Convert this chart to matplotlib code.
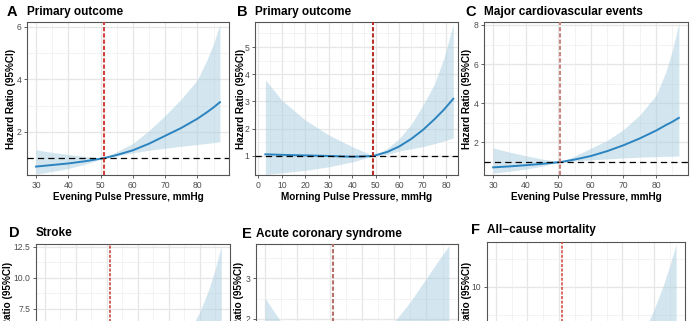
import matplotlib
matplotlib.use('Agg')
import matplotlib.pyplot as plt
import numpy as np

plt.rcParams['font.family'] = ['Liberation Sans', 'DejaVu Sans']

W, H = 694, 321

# evening pulse pressure grid (panels A, C, D, E, F)
x_eve = [30, 35, 40, 45, 51, 55, 60, 65, 70, 75, 80, 83, 85, 87]
# morning pulse pressure grid (panel B)
x_mor = [3, 10, 20, 30, 40, 49, 55, 60, 65, 70, 75, 79, 83]

# A  Primary outcome, evening
hr_a = [0.68, 0.74, 0.80, 0.88, 1.00, 1.12, 1.30, 1.55, 1.85, 2.15, 2.50, 2.75, 2.93, 3.13]
up_a = [1.32, 1.22, 1.14, 1.07, 1.00, 1.25, 1.56, 2.05, 2.62, 3.25, 3.98, 4.75, 5.35, 6.10]
lo_a = [0.39, 0.49, 0.61, 0.76, 1.00, 1.08, 1.20, 1.30, 1.38, 1.45, 1.52, 1.56, 1.59, 1.62]

# B  Primary outcome, morning
hr_b = [1.06, 1.04, 1.02, 1.00, 0.97, 1.00, 1.15, 1.35, 1.62, 1.95, 2.35, 2.70, 3.10]
up_b = [3.80, 3.05, 2.32, 1.77, 1.34, 1.00, 1.28, 1.64, 2.15, 2.85, 3.65, 4.60, 5.85]
lo_b = [0.32, 0.38, 0.47, 0.60, 0.78, 1.00, 1.06, 1.18, 1.26, 1.34, 1.45, 1.55, 1.66]

# C  Major cardiovascular events, evening
hr_c = [0.72, 0.77, 0.83, 0.90, 1.00, 1.12, 1.30, 1.55, 1.85, 2.20, 2.60, 2.88, 3.05, 3.25]
up_c = [1.72, 1.50, 1.32, 1.15, 1.00, 1.30, 1.70, 2.10, 2.65, 3.40, 4.40, 5.60, 6.70, 8.10]
lo_c = [0.42, 0.52, 0.63, 0.78, 1.00, 1.05, 1.10, 1.15, 1.20, 1.24, 1.27, 1.28, 1.29, 1.30]

# D  Stroke
hr_d = [0.70, 0.76, 0.82, 0.90, 1.00, 1.12, 1.30, 1.60, 2.00, 2.50, 3.10, 3.60, 3.90, 4.30]
up_d = [2.20, 1.80, 1.50, 1.20, 1.00, 1.40, 1.90, 2.60, 3.60, 5.00, 7.20, 9.10, 10.7, 12.6]
lo_d = [0.25, 0.35, 0.45, 0.65, 1.00, 1.00, 1.00, 1.05, 1.10, 1.20, 1.30, 1.36, 1.40, 1.45]

# E  Acute coronary syndrome
hr_e = [0.80, 0.85, 0.90, 0.95, 1.00, 1.05, 1.12, 1.20, 1.30, 1.40, 1.50, 1.58, 1.64, 1.70]
up_e = [2.51, 1.92, 1.50, 1.20, 1.00, 1.15, 1.35, 1.60, 1.92, 2.42, 3.00, 3.35, 3.58, 3.80]
lo_e = [0.25, 0.38, 0.55, 0.75, 1.00, 0.95, 0.92, 0.90, 0.88, 0.85, 0.82, 0.80, 0.79, 0.78]

# F  All-cause mortality
hr_f = [0.75, 0.80, 0.85, 0.92, 1.00, 1.10, 1.25, 1.45, 1.70, 2.00, 2.40, 2.75, 3.00, 3.30]
up_f = [1.80, 1.50, 1.30, 1.12, 1.00, 1.30, 1.70, 2.30, 3.20, 5.00, 8.00, 10.2, 11.9, 13.8]
lo_f = [0.35, 0.45, 0.55, 0.72, 1.00, 0.98, 0.95, 0.95, 0.95, 0.95, 0.95, 0.95, 0.95, 0.95]

eve_ticks = [30, 40, 50, 60, 70, 80]
eve_minor = [35, 45, 55, 65, 75, 85]
mor_ticks = [0, 10, 20, 30, 40, 50, 60, 70, 80]
mor_minor = [5, 15, 25, 35, 45, 55, 65, 75, 85]

panels = [
    dict(letter='A', title='Primary outcome', x=x_eve, hr=hr_a, up=up_a, lo=lo_a, ref=51,
         box=(27, 22, 229, 175), xlim=(27.2, 89.8), ylim=(0.36, 6.18),
         xt=eve_ticks, xm=eve_minor, yt=[2, 4, 6], ym=[1, 3, 5], ytl=None,
         xlabel='Evening Pulse Pressure, mmHg', vc='#d6403a', vlw=1.5,
         lx=(7, 12), ylx=11.5),
    dict(letter='B', title='Primary outcome', x=x_mor, hr=hr_b, up=up_b, lo=lo_b, ref=49,
         box=(255, 22, 458, 175), xlim=(-1.4, 84.9), ylim=(0.30, 5.92),
         xt=mor_ticks, xm=mor_minor, yt=[1, 2, 3, 4, 5], ym=[1.5, 2.5, 3.5, 4.5, 5.5], ytl=None,
         xlabel='Morning Pulse Pressure, mmHg', vc='#b8302a', vlw=1.5,
         lx=(237, 12), ylx=241.5),
    dict(letter='C', title='Major cardiovascular events', x=x_eve, hr=hr_c, up=up_c, lo=lo_c, ref=50.5,
         box=(484, 22, 688, 175), xlim=(27.2, 89.8), ylim=(0.33, 8.15),
         xt=eve_ticks, xm=eve_minor, yt=[2, 4, 6, 8], ym=[1, 3, 5, 7], ytl=None,
         xlabel='Evening Pulse Pressure, mmHg', vc='#c98680', vlw=1.5,
         lx=(465, 12), ylx=468),
    dict(letter='D', title='Stroke', x=x_eve, hr=hr_d, up=up_d, lo=lo_d, ref=51,
         box=(36, 244, 230, 397), xlim=(27.2, 89.8), ylim=(0.34, 12.74),
         xt=eve_ticks, xm=eve_minor, yt=[7.5, 10, 12.5], ym=[6.25, 8.75, 11.25],
         ytl=['7.5', '10.0', '12.5'],
         xlabel=None, vc='#c23a32', vlw=1.1,
         lx=(9, 233), ylx=8.5),
    dict(letter='E', title='Acute coronary syndrome', x=x_eve, hr=hr_e, up=up_e, lo=lo_e, ref=51,
         box=(256, 244, 458, 397), xlim=(27.2, 89.8), ylim=(0.08, 3.84),
         xt=eve_ticks, xm=eve_minor, yt=[2, 3], ym=[2.5, 3.5], ytl=None,
         xlabel=None, vc='#b8706a', vlw=1.5,
         lx=(242, 234), ylx=239.5),
    dict(letter='F', title='All\u2212cause mortality', x=x_eve, hr=hr_f, up=up_f, lo=lo_f, ref=51,
         box=(487, 242, 685, 395), xlim=(27.2, 89.8), ylim=(0.47, 13.97),
         xt=eve_ticks, xm=eve_minor, yt=[10], ym=[7.5, 12.5], ytl=None,
         xlabel=None, vc='#d0443a', vlw=1.1,
         lx=(471, 230), ylx=467),
]

fig = plt.figure(figsize=(W / 100, H / 100), dpi=100)

for p in panels:
    l, t, r, b = p['box']
    ax = fig.add_axes([l / W, 1 - b / H, (r - l) / W, (b - t) / H])
    ax.fill_between(p['x'], p['lo'], p['up'], color='#a9cfe0', alpha=0.5, lw=0, zorder=2)
    ax.plot(p['x'], p['hr'], color='#2b84c0', lw=1.4, zorder=3)
    ax.axhline(1, color='black', lw=0.9, ls=(0, (5, 3.3)), zorder=4)
    ax.axvline(p['ref'], color=p['vc'], lw=p['vlw'], ls=(0, (2, 1)), zorder=5)

    ax.set_xlim(*p['xlim'])
    ax.set_ylim(*p['ylim'])
    ax.set_xticks(p['xt'])
    ax.set_xticks(p['xm'], minor=True)
    ax.set_yticks(p['yt'])
    ax.set_yticks(p['ym'], minor=True)
    if p['ytl']:
        ax.set_yticklabels(p['ytl'])
    ax.grid(which='major', color='#e6e6e6', lw=0.9, zorder=0)
    ax.grid(which='minor', color='#eeeeee', lw=0.5, zorder=0)
    ax.set_axisbelow(True)
    ax.tick_params(which='major', length=2.5, width=0.6, color='#444444',
                   labelsize=6.2, labelcolor='#4d4d4d', pad=1.5)
    ax.tick_params(which='minor', length=0)
    for s in ax.spines.values():
        s.set_color('#555555')
        s.set_linewidth(0.8)

    if p['xlabel']:
        ax.set_xlabel(p['xlabel'], fontsize=7.2, fontweight='bold', labelpad=2)
    else:
        # bottom row: axis lies below the cropped edge
        ax.tick_params(axis='x', labelbottom=False)
    ax.set_ylabel('Hazard Ratio (95%CI)', fontsize=7.2, fontweight='bold')
    yl_y = 0.5 if t < 100 else (b - 312) / (b - t)
    ax.yaxis.set_label_coords((p['ylx'] + 4.5 - l) / (r - l), yl_y)

    fig.text(p['lx'][0] / W, 1 - p['lx'][1] / H, p['letter'], fontsize=10.5,
             fontweight='bold', ha='left', va='center')
    fig.text(l / W, 1 - p['lx'][1] / H, p['title'], fontsize=8.5,
             fontweight='bold', ha='left', va='center')

fig.savefig('out.png', dpi=100)
